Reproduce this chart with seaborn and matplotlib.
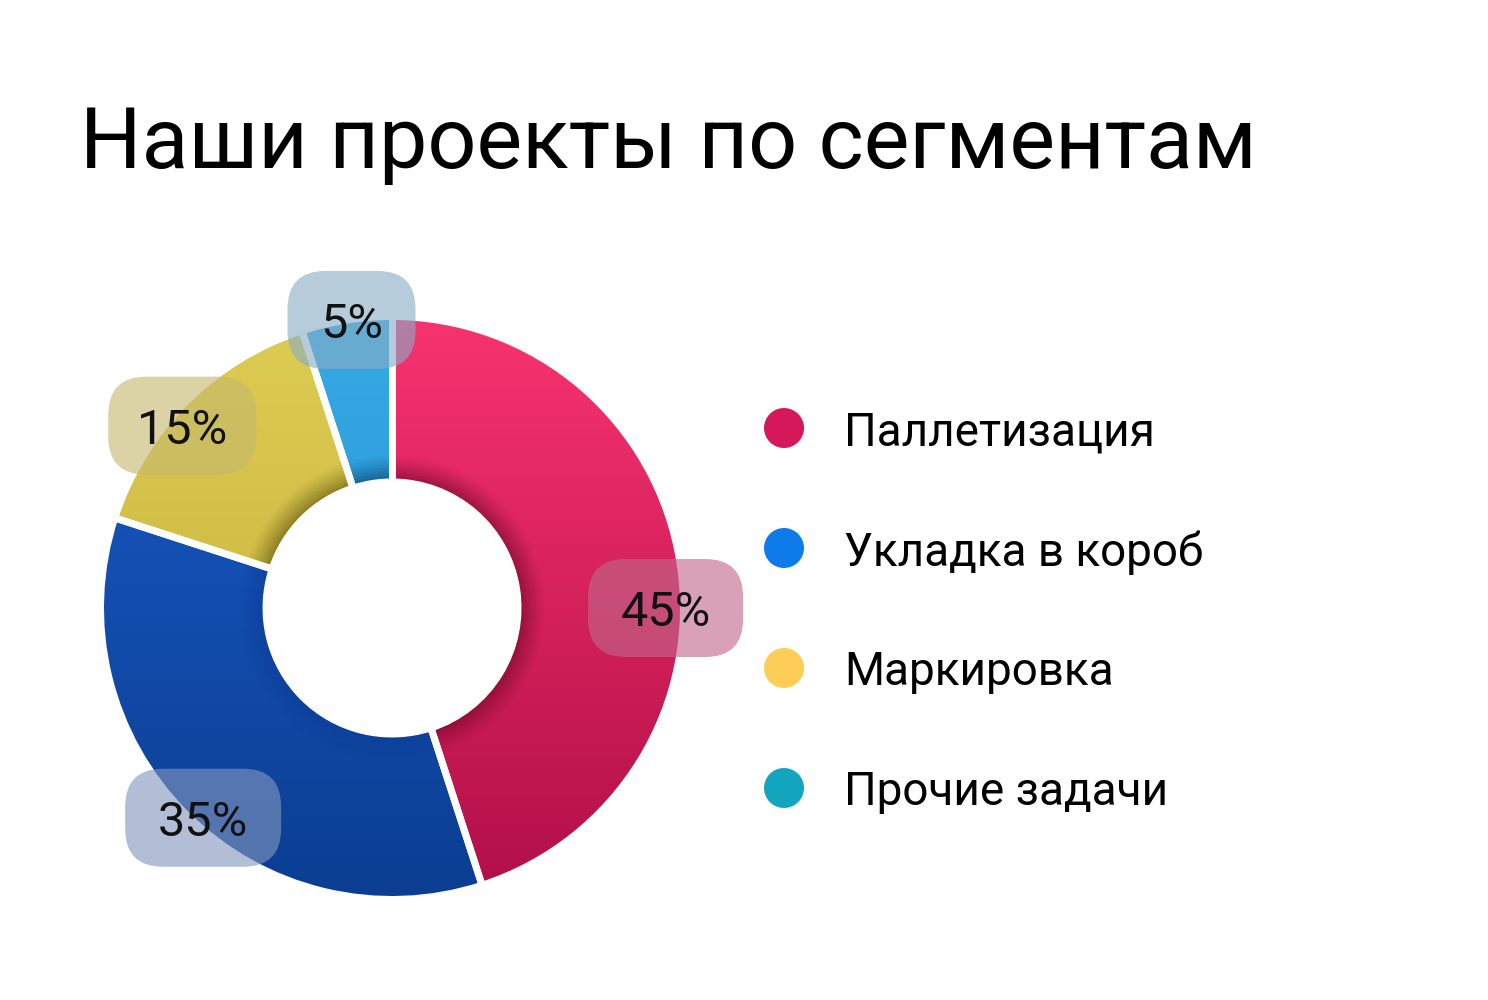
import numpy as np
import matplotlib
matplotlib.use("Agg")
import matplotlib.pyplot as plt
import seaborn as sns
from matplotlib.patches import FancyBboxPatch, Wedge
from matplotlib.colors import LinearSegmentedColormap

# ---- data ----
categories = ["Паллетизация", "Укладка в короб", "Маркировка", "Прочие задачи"]
shares = [45, 35, 15, 5]
pct_labels = ["45%", "35%", "15%", "5%"]
title = "Наши проекты по сегментам"

# ---- styles ----
wedge_top = ["#F7336F", "#1A5CC8", "#DDCC52", "#36AAE4"]
wedge_bot = ["#B10F48", "#0B3E92", "#C2AC3A", "#1E8CCC"]
shadow_cols = ["#6E0828", "#0C3C98", "#5E500C", "#083C6A"]
legend_colors = ["#D4185A", "#0E7BEB", "#FECD57", "#14A5BE"]
box_cols = ["#C06888", "#8296BE", "#C6B96E", "#89ADC5"]
box_w_px = [155, 156, 148, 128]
box_h_px = 98
label_angle_shift = [-9, 3, 4, -1]     # degrees, nudges label from wedge middle
label_radius = [0.95, 0.98, 0.965, 1.01]

sns.set_theme(style="white")
plt.rcParams['font.family'] = ['Roboto', 'DejaVu Sans']

W, H = 1488, 1000
fig = plt.figure(figsize=(W / 100, H / 100), dpi=100)
fig.patch.set_facecolor("white")

# pie axes: centre (392, 608) px, radius 288 px
cx, cy, R = 392, 608, 288
side = 600
ax = fig.add_axes([(cx - side / 2) / W, (H - cy - side / 2) / H, side / W, side / H])
L = (side / 2) / R

wedges, _ = ax.pie(shares, startangle=90, counterclock=False, radius=1.0,
                   colors=wedge_top,
                   wedgeprops=dict(width=0.55, edgecolor="white", linewidth=4))

# vertical gradient inside every wedge
yy = np.linspace(0, 1, 256).reshape(-1, 1)
for i, w in enumerate(wedges):
    cmap = LinearSegmentedColormap.from_list(f"g{i}", [wedge_bot[i], wedge_top[i]])
    im = ax.imshow(np.tile(yy, (1, 2)), extent=(-1, 1, -1, 1), origin="lower",
                   cmap=cmap, aspect="auto", zorder=1.5, interpolation="bicubic")
    im.set_clip_path(w)
    w.set_zorder(1)

# inner bevel shadow
radii = np.linspace(0.45, 0.53, 9)
for i, w in enumerate(wedges):
    t1, t2 = w.theta1, w.theta2
    for k in range(len(radii) - 1):
        a = 0.55 * (1 - k / (len(radii) - 1)) ** 1.3
        ring = Wedge((0, 0), radii[k + 1], t1 + 0.45, t2 - 0.45,
                     width=radii[k + 1] - radii[k], facecolor=shadow_cols[i],
                     edgecolor="none", alpha=a, zorder=2)
        ax.add_patch(ring)
# white separators on top
for w in wedges:
    t1, t2 = w.theta1, w.theta2
    for t in (t1, t2):
        rad = np.deg2rad(t)
        ax.plot([0.44 * np.cos(rad), 1.01 * np.cos(rad)],
                [0.44 * np.sin(rad), 1.01 * np.sin(rad)],
                color="white", lw=5, zorder=3, solid_capstyle="butt")

# percentage labels with rounded boxes
px = 1.0 / R
for i, w in enumerate(wedges):
    mid = np.deg2rad((w.theta1 + w.theta2) / 2 + label_angle_shift[i])
    lx, ly = label_radius[i] * np.cos(mid), label_radius[i] * np.sin(mid)
    bw, bh = box_w_px[i] * px, box_h_px * px
    rs = 38 * px
    box = FancyBboxPatch((lx - bw / 2 + rs, ly - bh / 2 + rs), bw - 2 * rs, bh - 2 * rs,
                         boxstyle=f"round,pad={rs},rounding_size={rs}",
                         facecolor=box_cols[i], edgecolor="none", alpha=0.62, zorder=4,
                         clip_on=False)
    ax.add_patch(box)
    ax.text(lx, ly, pct_labels[i], ha="center", va="center_baseline", fontsize=35,
            color="#111111", zorder=5, clip_on=False)

ax.set_xlim(-L, L)
ax.set_ylim(-L, L)
ax.set_aspect("equal")
ax.axis("off")

# title
fig.text(80 / W, 1 - 168 / H, title, fontsize=62, color="black", va="baseline", ha="left")

# legend
lax = fig.add_axes([0, 0, 1, 1], facecolor="none")
lax.set_xlim(0, W)
lax.set_ylim(H, 0)
lax.axis("off")
ys = [428 + 120 * i for i in range(len(categories))]
lax.scatter([784] * len(categories), ys, s=(40 * 0.72) ** 2, c=legend_colors,
            edgecolors="none", zorder=3)
for cat, y in zip(categories, ys):
    lax.text(844, y, cat, fontsize=33, color="black", va="center_baseline", ha="left")

fig.savefig("out.png", dpi=100, facecolor="white")
